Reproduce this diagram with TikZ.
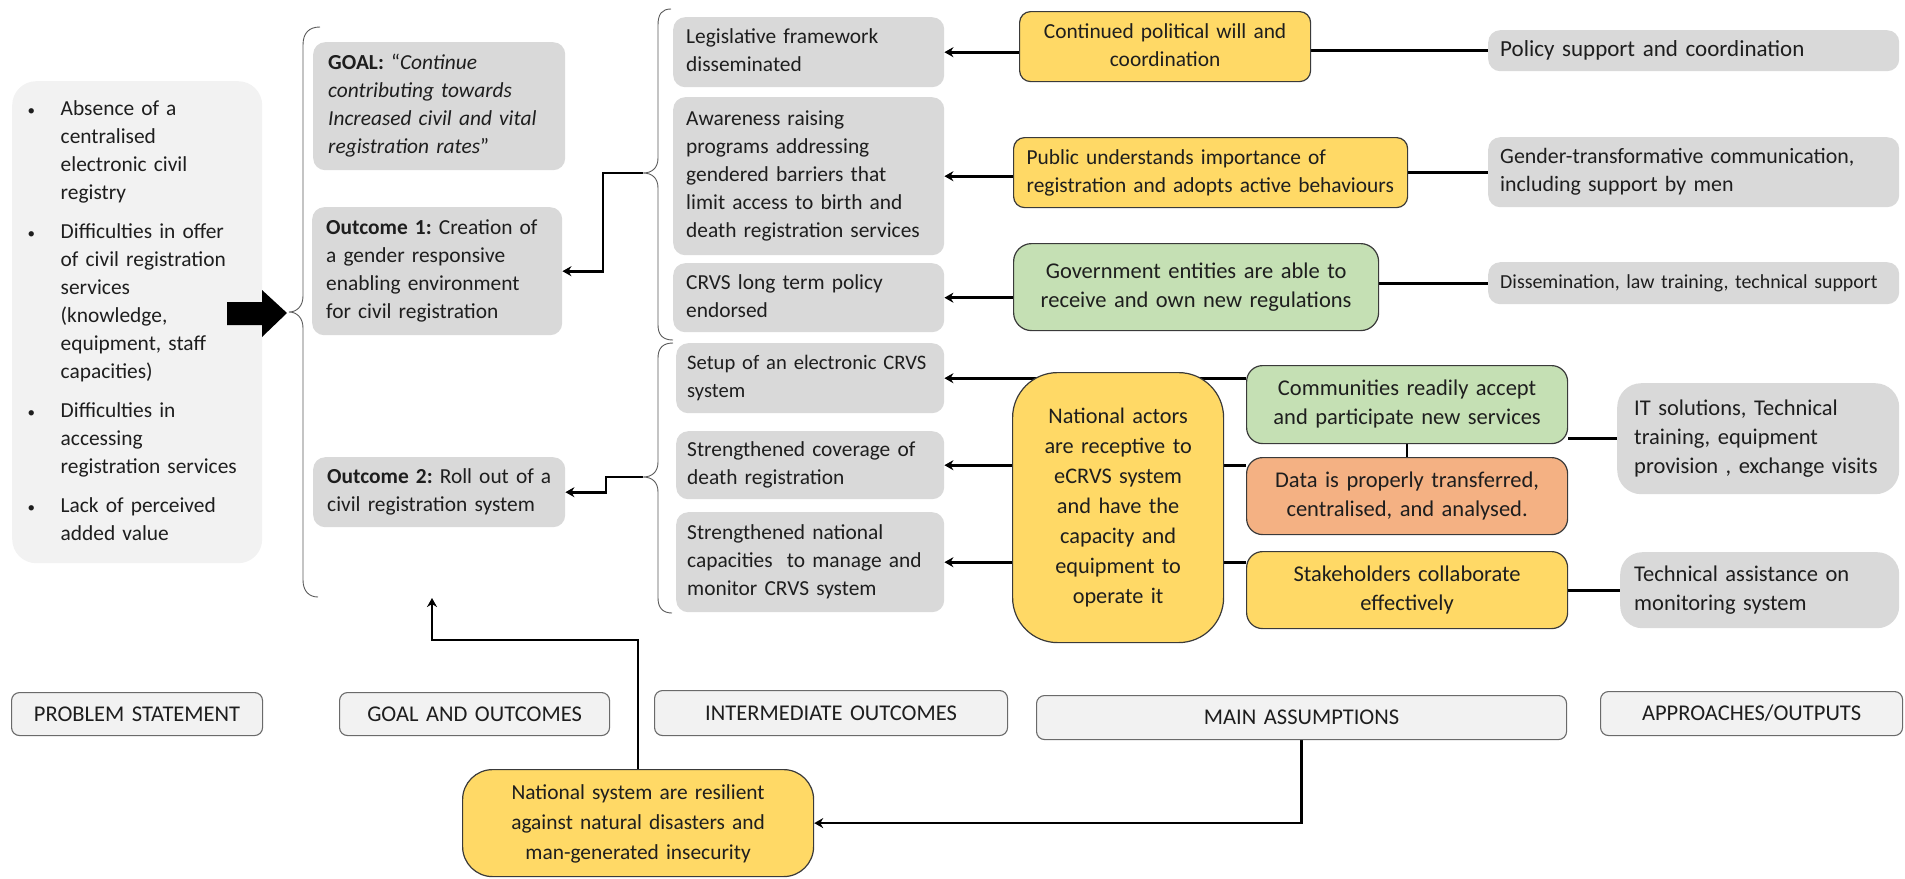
\documentclass[tikz,border=0pt]{standalone}
\usepackage{fontspec}
\setmainfont{Carlito}
\usetikzlibrary{arrows.meta,calc}
\pgfdeclarelayer{bg}
\pgfsetlayers{bg,main}
\definecolor{gfill}{HTML}{D9D9D9}
\definecolor{lfill}{HTML}{F2F2F2}
\definecolor{yfill}{HTML}{FFD966}
\definecolor{grfill}{HTML}{C5E0B4}
\definecolor{ofill}{HTML}{F4B183}
\definecolor{bord}{HTML}{3A3A3A}
\definecolor{hbord}{HTML}{6A6A6A}
\definecolor{txt}{HTML}{1E1E1E}
\newcommand{\ltab}[1]{\begin{tabular}{@{}l@{}}#1\end{tabular}}
\newcommand{\ctab}[1]{\begin{tabular}{@{}c@{}}#1\end{tabular}}
\frenchspacing
\begin{document}
\begin{tikzpicture}[x=1pt,y=-1pt,
 base/.style={anchor=north west, inner ysep=0pt, text=txt, font=\frenchspacing\fontsize{21.4}{28}\selectfont},
 big/.style={font=\frenchspacing\fontsize{22.5}{29}\selectfont},
 gbox/.style={base, fill=gfill, rounded corners=12pt, inner xsep=13pt, align=left},
 pbox/.style={base, fill=lfill, rounded corners=24pt, inner xsep=15.5pt, align=left},
 cbox/.style={base, draw=bord, line width=1.2pt, rounded corners=11pt, inner xsep=6pt, align=center},
 hbox/.style={base, big, fill=lfill, draw=hbord, line width=1.1pt, rounded corners=8pt, inner xsep=4pt, align=center},
 arr/.style={draw=black, line width=2.6pt, -{Stealth[length=9pt,width=10pt]}},
 lnk/.style={draw=black, line width=2.6pt},
 brace/.style={draw=black!65, line width=0.9pt}
]
\useasboundingbox (0,0) rectangle (1905,878);

% Problem statement
\node[pbox, text width=219pt, minimum height=482pt] (prob) at (12,81) {%
\begin{tabular}{@{}p{33pt}@{}l@{}}
{\fontsize{15}{15}\selectfont\textbullet} & Absence of a\\
 & centralised\\
 & electronic civil\\
 & registry\\[11pt]
{\fontsize{15}{15}\selectfont\textbullet} & Difficulties in offer\\
 & of civil registration\\
 & services\\
 & (knowledge,\\
 & equipment, staff\\
 & capacities)\\[11pt]
{\fontsize{15}{15}\selectfont\textbullet} & Difficulties in\\
 & accessing\\
 & registration services\\[11pt]
{\fontsize{15}{15}\selectfont\textbullet} & Lack of perceived\\
 & added value
\end{tabular}};

% Goal and outcomes
\node[gbox, inner xsep=15pt, text width=222pt, minimum height=128pt] (goal) at (313,42)
 {\ltab{\textbf{GOAL:} “\textit{Continue}\\\textit{contributing towards}\\\textit{Increased civil and vital}\\\textit{registration rates}”}};
\node[gbox, inner xsep=14pt, text width=222pt, minimum height=128pt] (out1) at (312,207)
 {\ltab{\textbf{Outcome 1:} Creation of\\a gender responsive\\enabling environment\\for civil registration}};
\node[gbox, inner xsep=14pt, text width=224pt, minimum height=70pt] (out2) at (313,457)
 {\ltab{\textbf{Outcome 2:} Roll out of a\\civil registration system}};

% Intermediate outcomes
\node[gbox, text width=245pt, minimum height=70pt] (leg) at (673,17)
 {\ltab{Legislative framework\\disseminated}};
\node[gbox, text width=245pt, minimum height=158pt] (aware) at (673,97)
 {\ltab{Awareness raising\\programs addressing\\gendered barriers that\\limit access to birth and\\death registration services}};
\node[gbox, text width=245pt, minimum height=69pt] (crvs) at (673,263)
 {\ltab{CRVS long term policy\\endorsed}};
\node[gbox, inner xsep=11pt, text width=246pt, minimum height=70pt, font=\frenchspacing\fontsize{20.6}{28}\selectfont] (setup) at (676,343)
 {\ltab{Setup of an electronic CRVS\\system}};
\node[gbox, inner xsep=11pt, text width=246pt, minimum height=68pt] (cov) at (676,431)
 {\ltab{Strengthened coverage of\\death registration}};
\node[gbox, inner xsep=11pt, text width=246pt, minimum height=100pt] (nat) at (676,512)
 {\ltab{Strengthened national\\capacities~ to manage and\\monitor CRVS system}};

% Assumptions
\node[cbox, fill=yfill, text width=279pt, minimum height=70pt] (cont) at (1019,11)
 {\ctab{Continued political will and\\coordination}};
\node[cbox, fill=yfill, align=left, inner xsep=13pt, text width=368pt, minimum height=70pt] (pub) at (1013,137)
 {\ltab{Public understands importance of\\registration and adopts active behaviours}};
\node[cbox, big, fill=grfill, rounded corners=18pt, text width=353pt, minimum height=87pt] (gov) at (1013,243)
 {\ctab{Government entities are able to\\receive and own new regulations}};
\node[cbox, fill=yfill, rounded corners=45pt, font=\frenchspacing\fontsize{22.3}{30}\selectfont, text width=199pt, minimum height=270pt] (actors) at (1012,372)
 {\ctab{National actors\\are receptive to\\eCRVS system\\and have the\\capacity and\\equipment to\\operate it}};
\node[cbox, big, fill=grfill, rounded corners=16pt, text width=309pt, minimum height=78pt] (comm) at (1246,365)
 {\ctab{Communities readily accept\\and participate new services}};
\node[cbox, big, fill=ofill, rounded corners=16pt, text width=309pt, minimum height=77pt] (data) at (1246,457)
 {\ctab{Data is properly transferred,\\centralised, and analysed.}};
\node[cbox, big, fill=yfill, rounded corners=16pt, text width=309pt, minimum height=77pt] (stake) at (1246,551)
 {\ctab{Stakeholders collaborate\\effectively}};

% Approaches / outputs
\node[gbox, inner xsep=12pt, text width=387pt, minimum height=41pt, font=\frenchspacing\fontsize{23}{29}\selectfont] (policy) at (1488,30)
 {\ltab{Policy support and coordination}};
\node[gbox, inner xsep=12pt, text width=387pt, minimum height=70pt, font=\frenchspacing\fontsize{21.9}{28}\selectfont] (gender) at (1488,137)
 {\ltab{Gender-transformative communication,\\including support by men}};
\node[gbox, inner xsep=12pt, text width=387pt, minimum height=42pt, font=\frenchspacing\fontsize{19.9}{26}\selectfont] (dissem) at (1488,262)
 {\ltab{Dissemination, law training, technical support}};
\node[gbox, big, rounded corners=24pt, inner xsep=17pt, text width=248pt, minimum height=111pt] (it) at (1617,383)
 {\ltab{IT solutions, Technical\\training, equipment\\provision , exchange visits}};
\node[gbox, big, rounded corners=22pt, inner xsep=14pt, text width=251pt, minimum height=76pt] (techa) at (1620,552)
 {\ltab{Technical assistance on\\monitoring system}};

% Headers
\node[hbox, text width=243pt, minimum height=43pt] (h1) at (11,692) {PROBLEM STATEMENT};
\node[hbox, text width=262pt, minimum height=43pt] (h2) at (339,692) {GOAL AND OUTCOMES};
\node[hbox, text width=345pt, minimum height=45pt] (h3) at (654,690) {INTERMEDIATE OUTCOMES};
\node[hbox, text width=522pt, minimum height=44pt] (h4) at (1036,695) {MAIN ASSUMPTIONS};
\node[hbox, text width=294pt, minimum height=44pt] (h5) at (1600,691) {APPROACHES/OUTPUTS};

% Bottom assumption
\node[cbox, fill=yfill, rounded corners=30pt, font=\frenchspacing\fontsize{21.4}{30}\selectfont, text width=339pt, minimum height=107pt] (natsys) at (462,769)
 {\ctab{National system are resilient\\against natural disasters and\\man-generated insecurity}};

% Block arrow
\fill[black] (227,302) -- (262,302) -- (262,290) -- (287,313) -- (262,337) -- (262,325) -- (227,325) -- cycle;

% Braces
\draw[brace] (320,27) .. controls (309,27) and (303,33) .. (303,45) -- (303,296) .. controls (303,306) and (297,312) .. (289,312) .. controls (297,312) and (303,318) .. (303,328) -- (303,580) .. controls (303,591) and (309,597) .. (318,597);
\draw[brace] (671,9) .. controls (662,9) and (658,14) .. (658,25) -- (658,158) .. controls (658,168) and (652,173) .. (643,173) .. controls (652,173) and (658,178) .. (658,188) -- (658,325) .. controls (658,335) and (663,340) .. (673,340);
\draw[brace] (673,343) .. controls (663,343) and (658,348) .. (658,358) -- (658,462) .. controls (658,472) and (652,477) .. (643,477) .. controls (652,477) and (658,482) .. (658,492) -- (658,598) .. controls (658,608) and (663,613) .. (672,613);
\coordinate (b1) at (643,173);
\coordinate (b2) at (643,477);
\coordinate (gtip) at (432,598);

% Connectors
\begin{pgfonlayer}{bg}
\draw[arr] (b1) -- ++(-40,0) |- (out1.east);
\draw[arr] (b2) -- ++(-37,0) |- (out2.east);
\draw[arr] (cont.west |- leg.east) -- (leg.east);
\draw[arr] (pub.west |- aware.east) -- (aware.east);
\draw[arr] (gov.west |- crvs.east) -- (crvs.east);
\draw[arr] (comm.west |- setup.east) -- (setup.east);
\draw[arr] (data.west |- cov.east) -- (cov.east);
\draw[arr] (stake.west |- nat.east) -- (nat.east);
\draw[lnk] (comm.south) -- (data.north);
\draw[lnk] (cont.east |- policy.west) -- (policy.west);
\draw[lnk] (pub.east |- gender.west) -- (gender.west);
\draw[lnk] (gov.east |- dissem.west) -- (dissem.west);
\draw[lnk] (comm.east |- it.west) -- (it.west);
\draw[lnk] (stake.east |- techa.west) -- (techa.west);
\draw[arr] (h4.south) |- (natsys.east);
\draw[arr] (natsys.north) -- ++(0,-129) -| (gtip);
\end{pgfonlayer}
\end{tikzpicture}
\end{document}
